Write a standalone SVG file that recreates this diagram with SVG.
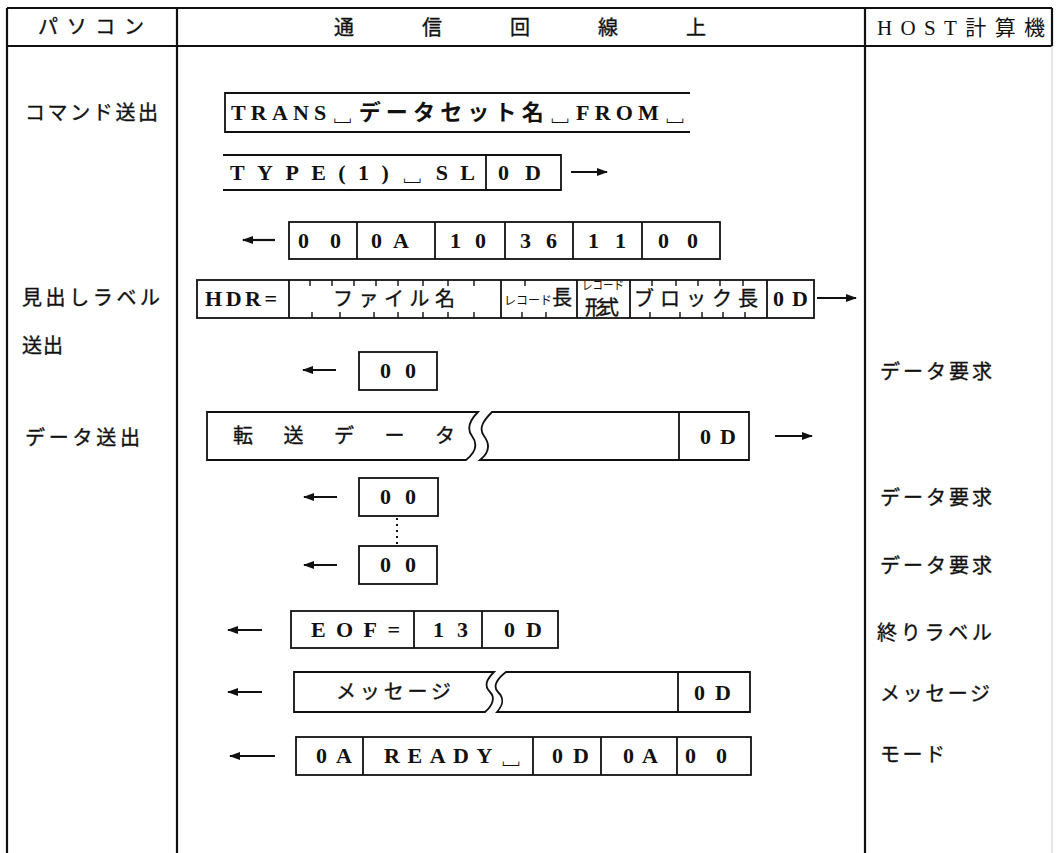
<svg xmlns="http://www.w3.org/2000/svg" width="1057" height="853" viewBox="0 0 1057 853">
<defs>
<style>
.frame{stroke:#111;stroke-width:2.2;fill:none}
.bx{stroke:#111;stroke-width:1.8;fill:#fff}
.ln{stroke:#111;stroke-width:1.8;fill:none}
.tk{stroke:#111;stroke-width:1.4}
.ar{stroke:#111;stroke-width:2.2;fill:none}
.t{font-family:"Liberation Serif","Noto Sans CJK JP","DejaVu Sans",serif;font-weight:bold;font-size:22px;fill:#111}
.j{font-family:"Noto Sans CJK JP","Noto Sans CJK SC",sans-serif;font-size:20px;fill:#111;stroke:#111;stroke-width:0.35}
.js{font-family:"Noto Sans CJK JP","Noto Sans CJK SC",sans-serif;font-size:12px;fill:#111}
.h{font-family:"Liberation Serif","Noto Sans CJK JP",serif;font-size:21px;fill:#111}
</style>
<marker id="ah" viewBox="0 0 11 8" refX="10" refY="4" markerWidth="11" markerHeight="8" markerUnits="userSpaceOnUse" orient="auto">
<path d="M0,0 L11,4 L0,8 Z" fill="#111"/>
</marker>
</defs>
<rect width="1057" height="853" fill="#fff"/>

<g id="table">
<line class="frame" x1="7" y1="8" x2="1052" y2="8"/>
<line class="frame" x1="7" y1="46" x2="1052" y2="46"/>
<line class="frame" x1="7" y1="8" x2="7" y2="853"/>
<line class="frame" x1="177" y1="8" x2="177" y2="853"/>
<line class="frame" x1="865" y1="8" x2="865" y2="853"/>
<line class="frame" x1="1052" y1="8" x2="1052" y2="46"/>
<line x1="1052" y1="46" x2="1052" y2="853" stroke="#cfcfcf" stroke-width="1"/>
<text class="j" x="38" y="34" textLength="106" lengthAdjust="spacing">パソコン</text>
<text class="j" x="334" y="35" font-size="21" textLength="372" lengthAdjust="spacing">通信回線上</text>
<text class="h" x="877" y="35" textLength="168" lengthAdjust="spacing">HOST計算機</text>
</g>

<g id="labels-left">
<text class="j" x="25" y="120" textLength="133" lengthAdjust="spacing">コマンド送出</text>
<text class="j" x="22" y="305" textLength="138" lengthAdjust="spacing">見出しラベル</text>
<text class="j" x="22" y="353" textLength="41" lengthAdjust="spacing">送出</text>
<text class="j" x="25" y="445" textLength="115" lengthAdjust="spacing">データ送出</text>
</g>

<g id="labels-right">
<text class="j" x="880" y="379" textLength="112" lengthAdjust="spacing">データ要求</text>
<text class="j" x="880" y="505" textLength="112" lengthAdjust="spacing">データ要求</text>
<text class="j" x="880" y="573" textLength="112" lengthAdjust="spacing">データ要求</text>
<text class="j" x="877" y="640" textLength="115" lengthAdjust="spacing">終りラベル</text>
<text class="j" x="880" y="701" textLength="110" lengthAdjust="spacing">メッセージ</text>
<text class="j" x="880" y="762" textLength="65" lengthAdjust="spacing">モード</text>
</g>

<g id="row-trans">
<path class="ln" d="M690,93 H225 V132 H690"/>
<text class="t" x="231" y="120" textLength="455" lengthAdjust="spacing">TRANS␣データセット名␣FROM␣</text>
</g>

<g id="row-type">
<path class="ln" d="M223,155 H561 V190 H223"/>
<line class="ln" x1="486" y1="155" x2="486" y2="190"/>
<text class="t" x="230" y="180" textLength="245" lengthAdjust="spacing">TYPE(1)␣SL</text>
<text class="t" x="498" y="180" textLength="43" lengthAdjust="spacing">0D</text>
</g>

<g id="row-ack1">
<rect class="bx" x="289" y="222" width="431" height="37"/>
<path class="ln" d="M357,222 V259 M435,222 V259 M505,222 V259 M573,222 V259 M642,222 V259"/>
<text class="t" x="298" y="248" textLength="43" lengthAdjust="spacing">00</text>
<text class="t" x="371" y="248" textLength="38" lengthAdjust="spacing">0A</text>
<text class="t" x="450" y="248" textLength="36" lengthAdjust="spacing">10</text>
<text class="t" x="520" y="248" textLength="37" lengthAdjust="spacing">36</text>
<text class="t" x="588" y="248" textLength="38" lengthAdjust="spacing">11</text>
<text class="t" x="658" y="248" textLength="40" lengthAdjust="spacing">00</text>
</g>

<g id="row-hdr">
<rect class="bx" x="197" y="280" width="617" height="38"/>
<path class="ln" d="M289,280 V318 M501,280 V318 M577,280 V318 M630,280 V318 M767,280 V318"/>
<path class="tk" d="M310,280 v6 M332,280 v6 M354,280 v6 M376,280 v6 M398,280 v6 M423,280 v6 M448,280 v6 M474,280 v6 M525,280 v6 M652,280 v6 M676,280 v6 M698,280 v6 M720,280 v6 M743,280 v6 M312,318 v-6 M340,318 v-6 M374,318 v-6 M398,318 v-6 M423,318 v-6 M448,318 v-6 M474,318 v-6 M522,318 v-6 M546,318 v-6 M650,318 v-6 M680,318 v-6 M702,318 v-6 M723,318 v-6 M745,318 v-6"/>
<text class="t" x="205" y="306" font-size="21" textLength="72" lengthAdjust="spacing">HDR=</text>
<text class="j" x="333" y="306" textLength="122" lengthAdjust="spacing">ファイル名</text>
<text x="504" y="305"><tspan class="js" font-size="13">レコード</tspan><tspan class="j" font-size="18">長</tspan></text>
<text class="js" x="582" y="290" textLength="42" lengthAdjust="spacingAndGlyphs">レコード</text>
<text class="j" x="585" y="315" font-size="16" textLength="34" lengthAdjust="spacing">形式</text>
<text class="j" x="634" y="306" textLength="124" lengthAdjust="spacing">ブロック長</text>
<text class="t" x="773" y="306" font-size="21" textLength="35" lengthAdjust="spacing">0D</text>
</g>

<g id="row-ack2">
<rect class="bx" x="359" y="352" width="78" height="38"/>
<text class="t" x="380" y="378" textLength="36" lengthAdjust="spacing">00</text>
</g>

<g id="row-data">
<path class="bx" d="M207,412 H478 C470,420 466,428 472,436 C478,444 476,452 466,460 H207 Z"/>
<path class="bx" d="M492,412 H749 V460 H480 C490,452 490,444 484,436 C478,428 484,420 492,412 Z"/>
<line class="ln" x1="679" y1="412" x2="679" y2="460"/>
<text class="j" x="233" y="443" textLength="222" lengthAdjust="spacing">転送データ</text>
<text class="t" x="700" y="444" textLength="36" lengthAdjust="spacing">0D</text>
</g>

<g id="row-ack3">
<rect class="bx" x="359" y="478" width="79" height="38"/>
<text class="t" x="380" y="504" textLength="36" lengthAdjust="spacing">00</text>
</g>

<g id="row-ack4">
<rect class="bx" x="359" y="546" width="78" height="38"/>
<text class="t" x="380" y="572" textLength="36" lengthAdjust="spacing">00</text>
</g>

<g id="row-eof">
<rect class="bx" x="291" y="611" width="267" height="37"/>
<path class="ln" d="M414,611 V648 M482,611 V648"/>
<text class="t" x="311" y="637" textLength="89" lengthAdjust="spacing">EOF=</text>
<text class="t" x="433" y="637" textLength="35" lengthAdjust="spacing">13</text>
<text class="t" x="504" y="637" textLength="38" lengthAdjust="spacing">0D</text>
</g>

<g id="row-msg">
<path class="bx" d="M294,672 H494 C486,680 484,686 490,692 C496,698 492,706 485,712 H294 Z"/>
<path class="bx" d="M506,672 H750 V712 H497 C504,704 504,698 498,692 C492,686 498,678 506,672 Z"/>
<line class="ln" x1="678" y1="672" x2="678" y2="712"/>
<text class="j" x="336" y="699" textLength="115" lengthAdjust="spacing">メッセージ</text>
<text class="t" x="694" y="700" textLength="37" lengthAdjust="spacing">0D</text>
</g>

<g id="row-ready">
<rect class="bx" x="296" y="737" width="455" height="38"/>
<path class="ln" d="M363,737 V775 M533,737 V775 M601,737 V775 M677,737 V775"/>
<text class="t" x="316" y="763" textLength="36" lengthAdjust="spacing">0A</text>
<text class="t" x="384" y="763" textLength="138" lengthAdjust="spacing">READY␣</text>
<text class="t" x="552" y="763" textLength="37" lengthAdjust="spacing">0D</text>
<text class="t" x="623" y="763" textLength="35" lengthAdjust="spacing">0A</text>
<text class="t" x="685" y="763" textLength="42" lengthAdjust="spacing">00</text>
</g>

<g id="connectors">
<line class="ar" x1="571" y1="172" x2="607" y2="172" marker-end="url(#ah)"/>
<line class="ar" x1="275" y1="240" x2="243" y2="240" marker-end="url(#ah)"/>
<line class="ar" x1="817" y1="298" x2="856" y2="298" marker-end="url(#ah)"/>
<line class="ar" x1="336" y1="370" x2="303" y2="370" marker-end="url(#ah)"/>
<line class="ar" x1="775" y1="436" x2="812" y2="436" marker-end="url(#ah)"/>
<line class="ar" x1="337" y1="497" x2="304" y2="497" marker-end="url(#ah)"/>
<line x1="397" y1="518" x2="397" y2="545" stroke="#111" stroke-width="2" stroke-dasharray="2,4"/>
<line class="ar" x1="337" y1="565" x2="304" y2="565" marker-end="url(#ah)"/>
<line class="ar" x1="262" y1="630" x2="228" y2="630" marker-end="url(#ah)"/>
<line class="ar" x1="262" y1="692" x2="228" y2="692" marker-end="url(#ah)"/>
<line class="ar" x1="275" y1="756" x2="230" y2="756" marker-end="url(#ah)"/>
</g>
</svg>
